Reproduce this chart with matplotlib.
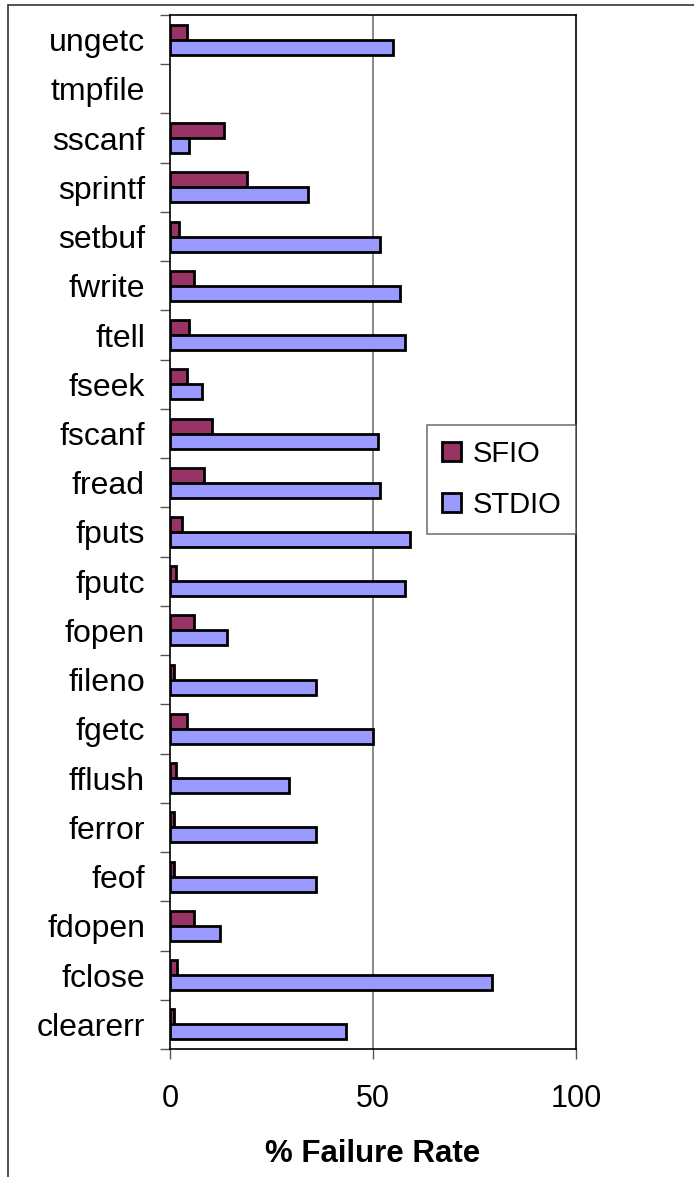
import matplotlib
matplotlib.use("Agg")
import matplotlib.pyplot as plt
import numpy as np
from matplotlib.patches import Rectangle

plt.rcParams['font.family'] = ['Liberation Sans', 'DejaVu Sans']

categories = ["clearerr", "fclose", "fdopen", "feof", "ferror", "fflush", "fgetc",
              "fileno", "fopen", "fputc", "fputs", "fread", "fscanf", "fseek",
              "ftell", "fwrite", "setbuf", "sprintf", "sscanf", "tmpfile", "ungetc"]
sfio = [1.1, 1.7, 6.0, 1.1, 1.1, 1.6, 4.2, 1.1, 6.0, 1.6, 2.9, 8.4, 10.3, 4.1,
        4.8, 6.0, 2.3, 18.9, 13.4, 0.0, 4.2]
stdio = [43.3, 79.4, 12.2, 36.0, 36.0, 29.2, 50.0, 36.0, 14.0, 58.0, 59.2, 51.8, 51.2, 7.8,
         58.0, 56.7, 51.8, 34.1, 4.8, 0.0, 54.9]
xticks = [0, 50, 100]

W, H = 694, 1177
fig = plt.figure(figsize=(W / 100, H / 100), dpi=100)
fig.patch.set_facecolor("white")

# outer chart frame
fig.add_artist(Rectangle((8 / W, -0.1), 1.2, 1 - 5 / H + 0.1, transform=fig.transFigure,
                         fill=False, edgecolor="#333333", linewidth=1.2, clip_on=False))

left, right, top, bottom = 170, 576, 15, 1049
ax = fig.add_axes([left / W, 1 - bottom / H, (right - left) / W, (bottom - top) / H])

y = np.arange(len(categories))
h = 0.305
e1 = ["black" if v > 0 else "none" for v in sfio]
e2 = ["black" if v > 0 else "none" for v in stdio]
ax.barh(y + h / 2, sfio, height=h, color="#993366", edgecolor=e1, linewidth=2.0,
        label="SFIO", zorder=3)
ax.barh(y - h / 2, stdio, height=h, color="#9999FF", edgecolor=e2, linewidth=2.0,
        label="STDIO", zorder=3)

ax.set_xlim(0, 100)
ax.set_ylim(-0.5, len(categories) - 0.5)
ax.set_xticks(xticks)
ax.set_xticklabels([str(v) for v in xticks], fontsize=22)
ax.set_yticks(y)
ax.set_yticklabels(categories, fontsize=23)
ax.set_yticks(np.arange(-0.5, len(categories)), minor=True)
ax.tick_params(axis="y", which="major", length=0, pad=18)
ax.tick_params(axis="y", which="minor", length=7, width=1, color="#555555", direction="out")
ax.tick_params(axis="x", which="major", length=7, width=1, color="#555555", direction="out", pad=18)

ax.axvline(50, color="#808080", linewidth=1.3, zorder=1)
for s in ax.spines.values():
    s.set_color("black")
    s.set_linewidth(1.2)

ax.set_xlabel("% Failure Rate", fontsize=22.5, fontweight="bold", labelpad=18)

leg = fig.legend(loc="upper left", bbox_to_anchor=(427 / W, 1 - 425 / H), fontsize=21,
                 frameon=True, fancybox=False, edgecolor="#555555", borderpad=0.5,
                 handlelength=0.65, handleheight=0.65, handletextpad=0.4, labelspacing=0.8,
                 borderaxespad=0)
leg.get_frame().set_linewidth(1.2)

fig.savefig("out.png", dpi=100)
